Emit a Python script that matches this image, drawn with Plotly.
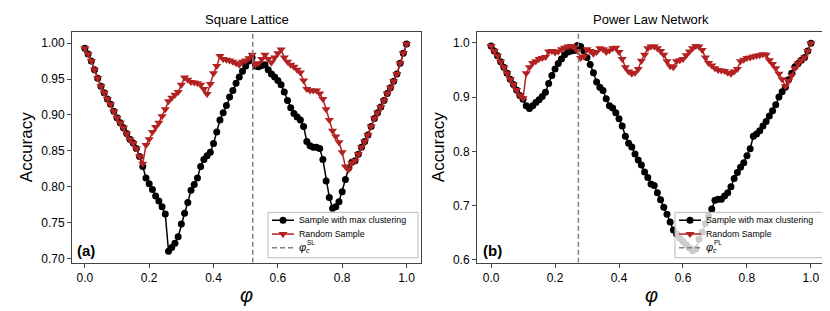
import plotly.graph_objects as go

# ---------------- data ----------------
phi = [round(i * 0.01, 2) for i in range(101)]

sl_cluster = [
    0.993, 0.985, 0.975, 0.963, 0.951, 0.940, 0.931, 0.922, 0.915, 0.905,
    0.896, 0.889, 0.882, 0.874, 0.866, 0.861, 0.853, 0.842, 0.828, 0.812,
    0.804, 0.796, 0.787, 0.780, 0.772, 0.762, 0.710, 0.715, 0.721, 0.730,
    0.748, 0.763, 0.778, 0.795, 0.803, 0.812, 0.828, 0.838, 0.843, 0.848,
    0.860, 0.876, 0.893, 0.903, 0.913, 0.925, 0.934, 0.944, 0.953, 0.961,
    0.968, 0.975, 0.980, 0.968, 0.967, 0.969, 0.970, 0.963, 0.957, 0.953,
    0.948, 0.942, 0.932, 0.920, 0.910, 0.902, 0.897, 0.893, 0.884, 0.863,
    0.857, 0.855, 0.855, 0.853, 0.838, 0.808, 0.785, 0.770, 0.772, 0.779,
    0.793, 0.810, 0.826, 0.834, 0.836, 0.845, 0.855, 0.863, 0.872, 0.884,
    0.895, 0.903, 0.911, 0.920, 0.930, 0.938, 0.947, 0.957, 0.972, 0.986,
    0.999,
]

sl_random = [
    0.993, 0.985, 0.975, 0.963, 0.951, 0.940, 0.931, 0.922, 0.915, 0.905,
    0.896, 0.889, 0.882, 0.874, 0.866, 0.861, 0.853, 0.842, 0.832, 0.858,
    0.866, 0.876, 0.883, 0.889, 0.898, 0.908, 0.919, 0.924, 0.928, 0.932,
    0.942, 0.952, 0.949, 0.946, 0.945, 0.944, 0.942, 0.936, 0.929, 0.943,
    0.958, 0.968, 0.982, 0.978, 0.977, 0.976, 0.974, 0.972, 0.970, 0.974,
    0.976, 0.979, 0.984, 0.970, 0.972, 0.978, 0.984, 0.978, 0.973, 0.980,
    0.986, 0.991, 0.980, 0.974, 0.970, 0.967, 0.963, 0.959, 0.948, 0.936,
    0.934, 0.934, 0.934, 0.930, 0.922, 0.908, 0.893, 0.878, 0.870, 0.862,
    0.848, 0.828, 0.824, 0.833, 0.836, 0.845, 0.855, 0.863, 0.872, 0.884,
    0.895, 0.903, 0.911, 0.920, 0.930, 0.938, 0.947, 0.957, 0.972, 0.986,
    0.999,
]

pl_cluster = [
    0.994, 0.985, 0.976, 0.965, 0.955, 0.944, 0.933, 0.923, 0.913, 0.903,
    0.896, 0.884, 0.879, 0.884, 0.890, 0.895, 0.901, 0.909, 0.925, 0.940,
    0.952, 0.962, 0.970, 0.978, 0.983, 0.985, 0.986, 0.995, 0.993, 0.985,
    0.973, 0.960, 0.945, 0.928, 0.918, 0.912, 0.897, 0.884, 0.880, 0.871,
    0.860, 0.847, 0.828, 0.815, 0.808, 0.795, 0.784, 0.775, 0.762, 0.752,
    0.740, 0.737, 0.724, 0.711, 0.697, 0.684, 0.670, 0.655, 0.648, 0.640,
    0.634, 0.628, 0.622, 0.617, 0.620, 0.638, 0.651, 0.667, 0.681, 0.694,
    0.710, 0.712, 0.712, 0.718, 0.724, 0.735, 0.750, 0.761, 0.771, 0.779,
    0.792, 0.805, 0.828, 0.832, 0.838, 0.847, 0.855, 0.865, 0.875, 0.886,
    0.900, 0.910, 0.918, 0.932, 0.944, 0.956, 0.962, 0.968, 0.973, 0.985,
    0.999,
]

pl_random = [
    0.994, 0.985, 0.976, 0.965, 0.955, 0.944, 0.933, 0.923, 0.913, 0.903,
    0.898, 0.944, 0.955, 0.963, 0.966, 0.970, 0.972, 0.974, 0.984, 0.985,
    0.982, 0.984, 0.988, 0.991, 0.993, 0.994, 0.992, 0.985, 0.972, 0.975,
    0.988, 0.985, 0.980, 0.983, 0.990, 0.988, 0.983, 0.986, 0.990, 0.991,
    0.983, 0.970, 0.955, 0.947, 0.943, 0.945, 0.952, 0.967, 0.978, 0.990,
    0.993, 0.993, 0.990, 0.985, 0.978, 0.966, 0.957, 0.955, 0.966, 0.968,
    0.970, 0.977, 0.984, 0.990, 0.994, 0.993, 0.987, 0.973, 0.963, 0.958,
    0.953, 0.950, 0.949, 0.948, 0.945, 0.943, 0.947, 0.952, 0.966, 0.969,
    0.972, 0.973, 0.975, 0.976, 0.977, 0.979, 0.978, 0.968, 0.961, 0.953,
    0.943, 0.933, 0.920, 0.930, 0.940, 0.953, 0.962, 0.968, 0.973, 0.985,
    0.999,
]

phi_c_sl = 0.522
phi_c_pl = 0.273

x_ticks = [0.0, 0.2, 0.4, 0.6, 0.8, 1.0]
y_ticks_sl = [0.70, 0.75, 0.80, 0.85, 0.90, 0.95, 1.00]
y_ticks_pl = [0.6, 0.7, 0.8, 0.9, 1.0]

titles = ["Square Lattice", "Power Law Network"]
series_names = ["Sample with max clustering", "Random Sample"]
crit_sup = ["SL", "PL"]

# ---------------- layout constants ----------------
W, H = 830, 311
FONT = "Liberation Sans, Arial, Helvetica, sans-serif"
RED = "#b22222"
GRAY = "#808080"
x_range_sl = [-0.04, 1.045]
x_range_pl = [-0.044, 1.044]
y_range_sl = [0.694, 1.016]
y_range_pl = [0.595, 1.0205]

dom_l = [64 / W, 413 / W]
dom_r = [469 / W, 817 / W]
dom_y = [1 - 258 / H, 1 - 24 / H]

CLUST_LINE = dict(color="black", width=1.5)
CLUST_MARK = dict(symbol="circle", size=7, color="black")
RAND_LINE = dict(color=RED, width=1.5)
RAND_MARK = dict(symbol="triangle-down", size=8, color=RED)
DASH_LINE = dict(color=GRAY, width=1.5, dash="5px,3px")

fig = go.Figure()


def add_panel(xa, ya, y_clust, y_rand, phic, yr):
    fig.add_trace(go.Scatter(
        x=phi, y=y_clust, mode="lines+markers", name=series_names[0],
        line=CLUST_LINE, marker=CLUST_MARK, xaxis=xa, yaxis=ya,
        showlegend=False))
    fig.add_trace(go.Scatter(
        x=phi, y=y_rand, mode="lines+markers", name=series_names[1],
        line=RAND_LINE, marker=RAND_MARK, xaxis=xa, yaxis=ya,
        showlegend=False))
    fig.add_trace(go.Scatter(
        x=[phic, phic], y=yr, mode="lines", line=DASH_LINE,
        xaxis=xa, yaxis=ya, showlegend=False))


add_panel("x", "y", sl_cluster, sl_random, phi_c_sl, y_range_sl)
add_panel("x2", "y2", pl_cluster, pl_random, phi_c_pl, y_range_pl)

ann = []


def add_legend(bx0, by0, bx1, by1, sup):
    # legend box drawn in pixel coordinates on full-figure overlay axes
    fig.add_trace(go.Scatter(
        x=[bx0, bx1, bx1, bx0, bx0], y=[by0, by0, by1, by1, by0],
        mode="lines", fill="toself", fillcolor="rgba(255,255,255,0.8)",
        line=dict(color="#b8b8b8", width=1), xaxis="x3", yaxis="y3",
        showlegend=False, hoverinfo="skip"))
    rows = [by0 + 8, by0 + 22, by0 + 36]
    lx0, lx1 = bx0 + 4, bx0 + 26
    lxm = (lx0 + lx1) / 2
    specs = [(CLUST_LINE, CLUST_MARK), (RAND_LINE, RAND_MARK), (DASH_LINE, None)]
    for ry, (ln, mk) in zip(rows, specs):
        fig.add_trace(go.Scatter(
            x=[lx0, lx1], y=[ry, ry], mode="lines", line=ln,
            xaxis="x3", yaxis="y3", showlegend=False, hoverinfo="skip"))
        if mk is not None:
            fig.add_trace(go.Scatter(
                x=[lxm], y=[ry], mode="markers", marker=mk,
                xaxis="x3", yaxis="y3", showlegend=False, hoverinfo="skip"))
    tx = bx0 + 29
    for ry, txt in zip(rows[:2], series_names):
        ann.append(dict(text=txt, x=tx / W, y=1 - ry / H, xref="paper",
                        yref="paper", showarrow=False, xanchor="left",
                        yanchor="middle",
                        font=dict(family=FONT, size=8.8, color="black")))
    ry = rows[2]
    ann.append(dict(text="<i>φ</i>", x=tx / W, y=1 - (ry - 0.5) / H,
                    xref="paper", yref="paper", showarrow=False,
                    xanchor="left", yanchor="middle",
                    font=dict(family=FONT, size=11, color="black")))
    ann.append(dict(text="<i>c</i>", x=(tx + 7) / W, y=1 - (ry + 3) / H,
                    xref="paper", yref="paper", showarrow=False,
                    xanchor="left", yanchor="middle",
                    font=dict(family=FONT, size=7, color="black")))
    ann.append(dict(text=sup, x=(tx + 7.5) / W, y=1 - (ry - 5) / H,
                    xref="paper", yref="paper", showarrow=False,
                    xanchor="left", yanchor="middle",
                    font=dict(family=FONT, size=6.5, color="black")))


add_legend(260, 207, 410, 253, crit_sup[0])
add_legend(667, 207, 815, 253, crit_sup[1])

axis_common = dict(
    showline=True, mirror=True, linecolor="#444", linewidth=1,
    ticks="outside", ticklen=4, tickcolor="#444", tickwidth=1,
    showgrid=False, zeroline=False,
    tickfont=dict(family=FONT, size=12, color="black"),
)

fig.update_layout(
    width=W, height=H,
    margin=dict(l=0, r=0, t=0, b=0),
    paper_bgcolor="white", plot_bgcolor="rgba(0,0,0,0)",
    font=dict(family=FONT, color="black"),
    showlegend=False,
    xaxis=dict(domain=dom_l, range=x_range_sl, tickvals=x_ticks,
               tickformat=".1f", anchor="y", **axis_common),
    yaxis=dict(domain=dom_y, range=y_range_sl, tickvals=y_ticks_sl,
               tickformat=".2f", anchor="x", **axis_common),
    xaxis2=dict(domain=dom_r, range=x_range_pl, tickvals=x_ticks,
                tickformat=".1f", anchor="y2", **axis_common),
    yaxis2=dict(domain=dom_y, range=y_range_pl, tickvals=y_ticks_pl,
                tickformat=".1f", anchor="x2", **axis_common),
    xaxis3=dict(domain=[0, 1], range=[0, W], visible=False, anchor="y3",
                fixedrange=True),
    yaxis3=dict(domain=[0, 1], range=[H, 0], visible=False, anchor="x3",
                fixedrange=True),
)

centers = [(dom_l[0] + dom_l[1]) / 2, (dom_r[0] + dom_r[1]) / 2]
for c, t in zip(centers, titles):
    ann.append(dict(text=t, x=c, y=1 - 12 / H, xref="paper", yref="paper",
                    showarrow=False, xanchor="center", yanchor="middle",
                    font=dict(family=FONT, size=13, color="black")))
    ann.append(dict(text="<i>φ</i>", x=c, y=1 - 291 / H, xref="paper",
                    yref="paper", showarrow=False, xanchor="center",
                    yanchor="middle",
                    font=dict(family=FONT, size=20, color="black")))
for xp in [18 / W, 430 / W]:
    ann.append(dict(text="Accuracy", x=xp, y=(dom_y[0] + dom_y[1]) / 2,
                    xref="paper", yref="paper", showarrow=False, textangle=-90,
                    xanchor="center", yanchor="middle",
                    font=dict(family=FONT, size=17, color="black")))
for xp, lab in [(67 / W, "(a)"), (473 / W, "(b)")]:
    ann.append(dict(text="<b>" + lab + "</b>", x=xp, y=1 - 246 / H,
                    xref="paper", yref="paper", showarrow=False,
                    xanchor="left", yanchor="middle",
                    font=dict(family=FONT, size=15, color="black")))
fig.update_layout(annotations=ann)

fig.write_html("out.html")
